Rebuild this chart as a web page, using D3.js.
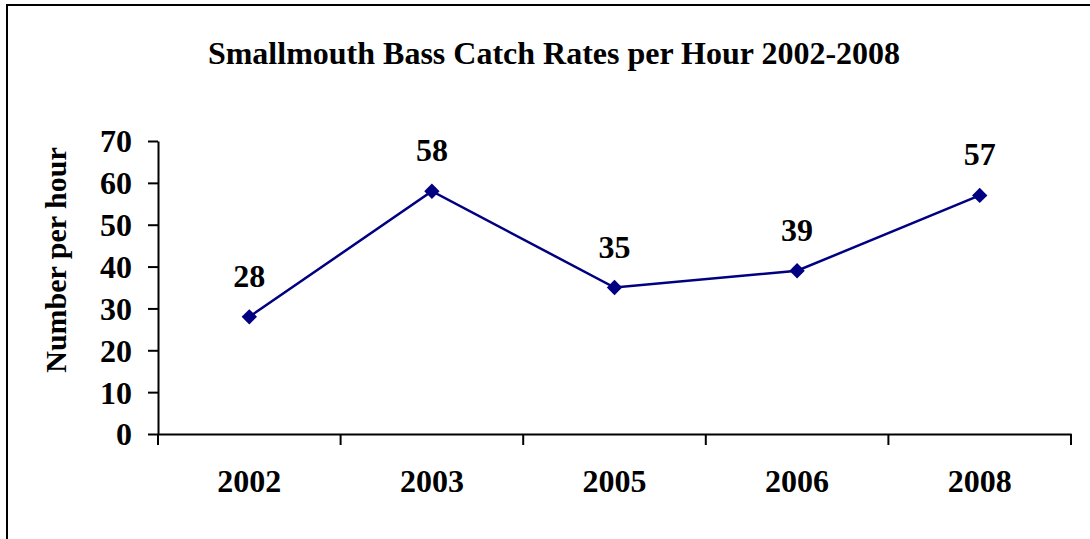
<!DOCTYPE html>
<html>
<head>
<meta charset="utf-8">
<script src="https://cdn.jsdelivr.net/npm/d3@7"></script>
<style>
  html, body { margin: 0; padding: 0; background: #fff; }
  svg { display: block; }
  text { font-family: "Liberation Serif", "Times New Roman", serif; font-weight: bold; fill: #000; }
</style>
</head>
<body>
<svg width="1090" height="539"></svg>
<script>
var years = ['2002', '2003', '2005', '2006', '2008'];
var catchRates = [28, 58, 35, 39, 57];
var yTicks = [0, 10, 20, 30, 40, 50, 60, 70];

var svg = d3.select('svg'),
    width = 1090,
    height = 539,
    margin = { top: 141, right: 19, bottom: 105, left: 158 };

// outer chart frame (cut off at right and bottom like the source)
svg.append('rect')
    .attr('x', 7).attr('y', 5)
    .attr('width', 1100).attr('height', 560)
    .attr('fill', 'none')
    .attr('stroke', '#000')
    .attr('stroke-width', 2);

svg.append('text')
    .attr('x', 554)
    .attr('y', 64)
    .attr('text-anchor', 'middle')
    .style('font-size', '32px')
    .text('Smallmouth Bass Catch Rates per Hour 2002-2008');

var x = d3.scaleBand()
    .domain(years)
    .range([margin.left, width - margin.right]);

var y = d3.scaleLinear()
    .domain([0, 70])
    .range([height - margin.bottom, margin.top]);

var g = svg.append('g');

// y axis
var yAxis = g.append('g')
    .attr('transform', 'translate(' + margin.left + ',0)')
    .call(d3.axisLeft(y).tickValues(yTicks).tickSize(10).tickSizeOuter(0).tickPadding(16));

// x axis: ticks sit between categories
var xAxis = g.append('g')
    .attr('transform', 'translate(0,' + (height - margin.bottom) + ')')
    .call(d3.axisBottom(x).tickSize(0));

xAxis.selectAll('.boundary')
    .data(d3.range(years.length + 1))
    .enter().append('line')
    .attr('x1', function (i) { return margin.left + i * x.step(); })
    .attr('x2', function (i) { return margin.left + i * x.step(); })
    .attr('y1', 0).attr('y2', 11)
    .attr('stroke', '#000')
    .attr('stroke-width', 2);

[yAxis, xAxis].forEach(function (a) {
    a.select('.domain').attr('stroke', '#000').attr('stroke-width', 2);
    a.selectAll('.tick line').attr('stroke', '#000').attr('stroke-width', 2);
    a.selectAll('text')
        .style('font-family', '"Liberation Serif", "Times New Roman", serif')
        .style('font-weight', 'bold')
        .style('font-size', '32px')
        .attr('fill', '#000');
});
yAxis.selectAll('text').attr('dy', '0.34em');
xAxis.selectAll('text').attr('y', 58).attr('dy', 0);

// y axis title
svg.append('text')
    .attr('transform', 'translate(66,' + 260 + ') rotate(-90)')
    .attr('text-anchor', 'middle')
    .style('font-size', '30px')
    .text('Number per hour');

var cx = function (d, i) { return x(years[i]) + x.bandwidth() / 2; };

var line = d3.line()
    .x(cx)
    .y(function (d) { return y(d); });

g.append('path')
    .datum(catchRates)
    .attr('d', line)
    .attr('fill', 'none')
    .attr('stroke', '#000080')
    .attr('stroke-width', 2.5);

g.selectAll('.marker')
    .data(catchRates)
    .enter().append('path')
    .attr('class', 'marker')
    .attr('d', d3.symbol().type(d3.symbolDiamond2).size(150))
    .attr('transform', function (d, i) { return 'translate(' + cx(d, i) + ',' + y(d) + ')'; })
    .attr('fill', '#000080');

g.selectAll('.label')
    .data(catchRates)
    .enter().append('text')
    .attr('class', 'label')
    .attr('x', cx)
    .attr('y', function (d) { return y(d) - 30; })
    .attr('text-anchor', 'middle')
    .style('font-size', '32px')
    .text(function (d) { return d; });
</script>
</body>
</html>
